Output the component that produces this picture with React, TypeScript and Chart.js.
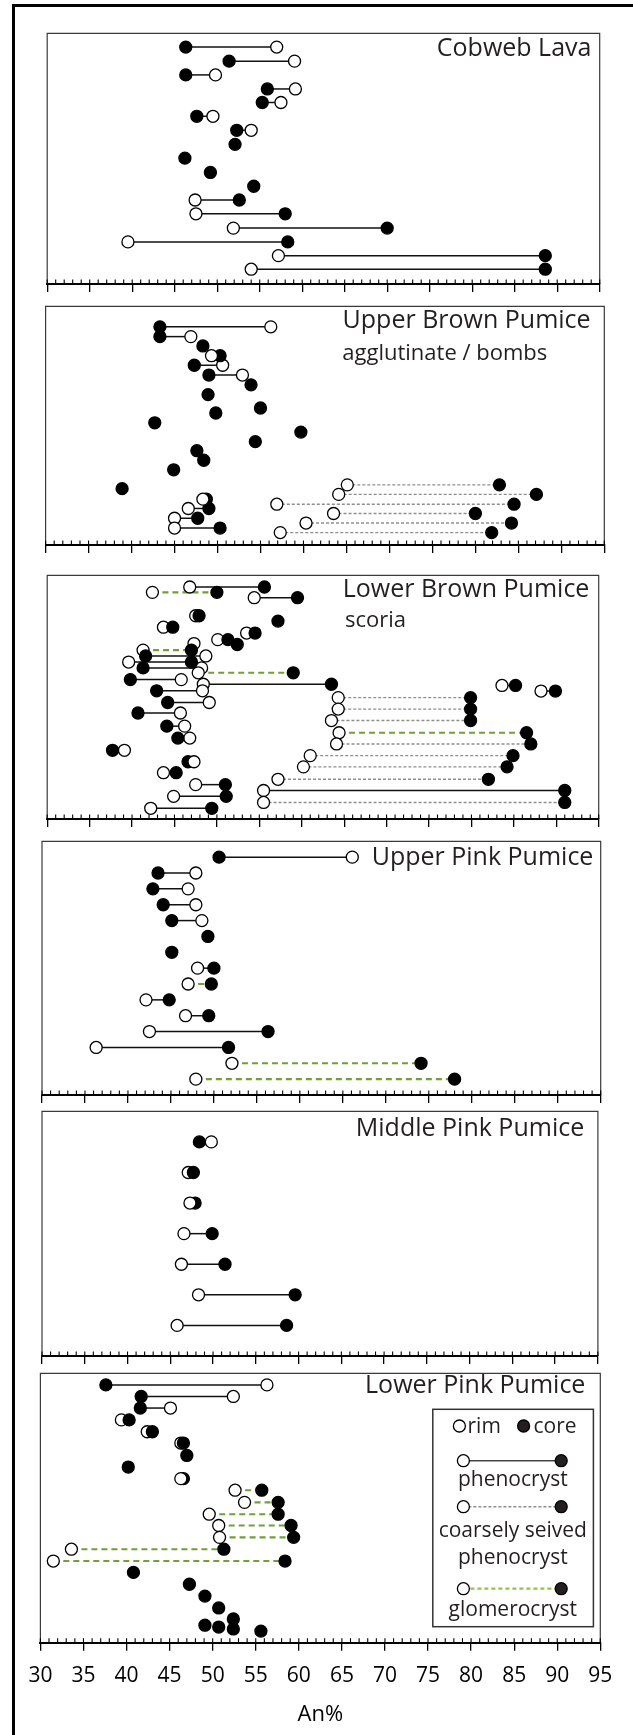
import React, { useEffect, useRef } from "react";
import { Chart, registerables } from "chart.js";

Chart.register(...registerables);

const FONT = "'Open Sans', 'Noto Sans', sans-serif";
const TEXT = "#231f20";

// ---- axis ----
const X_MIN = 30;
const X_MAX = 95;
const xTicks = [30, 35, 40, 45, 50, 55, 60, 65, 70, 75, 80, 85, 90, 95];
const minorTicks = [
  31, 32, 33, 34, 36, 37, 38, 39, 41, 42, 43, 44, 46, 47, 48, 49, 51, 52, 53, 54,
  56, 57, 58, 59, 61, 62, 63, 64, 66, 67, 68, 69, 71, 72, 73, 74, 76, 77, 78, 79,
  81, 82, 83, 84, 86, 87, 88, 89, 91, 92, 93, 94,
];
const xTitle = "An%";

const panelNames = [
  "Cobweb Lava",
  "Upper Brown Pumice",
  "Lower Brown Pumice",
  "Upper Pink Pumice",
  "Middle Pink Pumice",
  "Lower Pink Pumice",
];
const panelSubtitles = ["", "agglutinate / bombs", "scoria", "", "", ""];

// pos = position of the crystal down the panel (0 top .. 100 bottom)
// link: p = phenocryst, s = coarsely sieved phenocryst, g = glomerocryst, "" = none

// ---- Cobweb Lava ----
const cobwebPos = [5.5, 11.1, 16.6, 22.2, 27.6, 33.1, 38.7, 44.3, 49.8, 55.5, 61.0, 66.5, 72.0, 77.7, 83.2, 88.7, 94.1];
const cobwebRim = [57.0, 59.1, 49.8, 59.2, 57.5, 49.5, 54.0, null, null, null, null, 47.4, 47.5, 51.9, 39.5, 57.2, 54.0];
const cobwebCore = [46.3, 51.4, 46.3, 55.9, 55.3, 47.6, 52.3, 52.1, 46.2, 49.2, 54.3, 52.6, 58.0, 70.0, 58.3, 88.6, 88.6];
const cobwebLink = ["p", "p", "p", "p", "p", "p", "p", "", "", "", "", "p", "p", "p", "p", "p", "p"];
const cobwebRimTop: number[] = [];

// ---- Upper Brown Pumice ----
const upperBrownPos = [8.6, 12.7, 16.6, 20.7, 24.7, 28.8, 32.9, 37.0, 42.6, 44.7, 48.8, 52.7, 56.7, 60.5, 64.5, 68.5, 74.8, 76.4, 78.8, 80.8, 82.9, 84.7, 86.8, 88.8, 90.8, 92.9, 94.8];
const upperBrownRim = [56.2, 46.9, null, 49.3, 50.6, 52.9, null, null, null, null, null, null, null, null, null, null, 65.1, null, 64.1, 48.3, 56.9, 46.6, 63.5, 45.0, 60.3, 45.0, 57.3];
const upperBrownCore = [43.3, 43.3, 48.3, 50.3, 47.3, 49.0, 53.9, 48.9, 55.0, 49.8, 42.7, 59.7, 54.4, 47.6, 48.4, 44.9, 82.8, 38.9, 87.1, 48.7, 84.5, 49.0, 80.0, 47.7, 84.2, 50.3, 81.9];
const upperBrownLink = ["p", "p", "", "p", "p", "p", "", "", "", "", "", "", "", "", "", "", "s", "", "s", "p", "s", "p", "s", "p", "s", "p", "s"];
const upperBrownRimTop = [3, 19];

// ---- Lower Brown Pumice ----
const lowerBrownPos = [4.8, 7.0, 9.2, 16.6, 18.8, 21.3, 23.7, 26.4, 28.0, 28.4, 30.7, 33.1, 35.6, 38.0, 40.0, 42.8, 44.7, 45.2, 47.4, 47.5, 50.2, 52.2, 54.9, 56.5, 59.6, 61.9, 64.6, 66.8, 69.2, 71.8, 74.0, 76.5, 78.6, 81.0, 83.7, 85.9, 88.3, 90.7, 93.2, 95.6];
const lowerBrownRim = [46.8, 42.4, 54.4, 47.5, null, 43.7, 53.5, 50.1, 47.3, null, 41.3, 48.7, 39.6, 48.2, 47.8, 45.8, 48.4, 83.6, 48.3, 88.2, 64.3, 49.1, 64.3, 45.7, 63.5, 46.2, 64.4, 46.8, 64.1, 39.1, 61.0, 47.3, 60.2, 43.7, 57.2, 47.5, 55.5, 44.9, 55.5, 42.2];
const lowerBrownCore = [55.6, 50.0, 59.5, 47.9, 57.2, 44.8, 54.5, 51.3, null, 52.4, 47.0, 41.6, 47.0, 41.3, 59.0, 39.8, 63.5, 85.2, 42.9, 89.9, 79.9, 44.2, 79.9, 40.7, 79.9, 44.1, 86.5, 45.4, 87.0, 37.7, 84.9, 46.6, 84.2, 45.2, 82.0, 51.0, 91.0, 51.1, 91.0, 49.4];
const lowerBrownLink = ["p", "g", "p", "p", "", "p", "p", "p", "", "", "g", "p", "p", "p", "g", "p", "p", "p", "p", "p", "s", "p", "s", "p", "s", "p", "g", "p", "s", "p", "s", "p", "s", "p", "s", "p", "p", "p", "s", "p"];
const lowerBrownRimTop = [31];

// ---- Upper Pink Pumice ----
const upperPinkPos = [6.25, 12.5, 18.75, 25, 31.25, 37.5, 43.75, 50, 56.25, 62.5, 68.75, 75, 81.25, 87.5, 93.75];
const upperPinkRim = [66.1, 47.9, 47.0, 47.9, 48.6, null, null, 48.1, 47.0, 42.1, 46.7, 42.5, 36.3, 52.1, 47.9];
const upperPinkCore = [50.6, 43.5, 42.9, 44.1, 45.1, 49.3, 45.1, 50.0, 49.7, 44.8, 49.4, 56.3, 51.7, 74.1, 78.0];
const upperPinkLink = ["p", "p", "p", "p", "p", "", "", "p", "g", "p", "p", "p", "p", "g", "g"];
const upperPinkRimTop: number[] = [];

// ---- Middle Pink Pumice ----
const middlePinkPos = [12.5, 25, 37.5, 50, 62.5, 75, 87.5];
const middlePinkRim = [49.8, 47.1, 47.3, 46.6, 46.3, 48.3, 45.8];
const middlePinkCore = [48.4, 47.7, 47.9, 49.9, 51.4, 59.6, 58.6];
const middlePinkLink = ["p", "p", "p", "p", "p", "p", "p"];
const middlePinkRimTop = [0, 2];

// ---- Lower Pink Pumice ----
const lowerPinkPos = [4.3, 8.6, 12.9, 17.3, 21.7, 25.9, 30.5, 34.8, 39.1, 43.4, 47.9, 52.3, 56.5, 60.9, 65.3, 69.7, 73.9, 78.3, 82.7, 87.1, 91.2, 93.5, 94.2, 94.9, 95.7];
const lowerPinkRim = [56.3, 52.4, 45.1, 39.4, 42.4, 46.3, null, null, 46.3, 52.6, 53.7, 49.6, 50.7, 50.8, 33.6, 31.5, null, null, null, null, null, null, null, null, null];
const lowerPinkCore = [37.6, 41.7, 41.6, 40.3, 43.0, 46.6, 47.0, 40.2, 46.6, 55.7, 57.6, 57.6, 59.1, 59.4, 51.3, 58.4, 40.8, 47.3, 49.1, 50.7, 52.4, 49.1, 50.7, 52.4, 55.6];
const lowerPinkLink = ["p", "p", "p", "p", "p", "p", "", "", "p", "g", "g", "g", "g", "g", "g", "g", "", "", "", "", "", "", "", "", ""];
const lowerPinkRimTop = [8];

type PanelData = {
  pos: number[];
  rim: (number | null)[];
  core: (number | null)[];
  link: string[];
  rimTop: number[];
};

const panelData: PanelData[] = [
  { pos: cobwebPos, rim: cobwebRim, core: cobwebCore, link: cobwebLink, rimTop: cobwebRimTop },
  { pos: upperBrownPos, rim: upperBrownRim, core: upperBrownCore, link: upperBrownLink, rimTop: upperBrownRimTop },
  { pos: lowerBrownPos, rim: lowerBrownRim, core: lowerBrownCore, link: lowerBrownLink, rimTop: lowerBrownRimTop },
  { pos: upperPinkPos, rim: upperPinkRim, core: upperPinkCore, link: upperPinkLink, rimTop: upperPinkRimTop },
  { pos: middlePinkPos, rim: middlePinkRim, core: middlePinkCore, link: middlePinkLink, rimTop: middlePinkRimTop },
  { pos: lowerPinkPos, rim: lowerPinkRim, core: lowerPinkCore, link: lowerPinkLink, rimTop: lowerPinkRimTop },
];

// ---- layout (page pixels) ----
const W = 633;
const H = 1735;
const PAD_TOP = 3;
const AXIS_H = 12;
const LAYOUT = [
  { left: 47.2, right: 599.7, top: 29.3, axis: 284.0, titleRight: 591.4, titleBase: 56.7, subLeft: 0, subBase: 0 },
  { left: 45.6, right: 604.3, top: 302.3, axis: 545.7, titleRight: 590.6, titleBase: 328.3, subLeft: 342.3, subBase: 360.0 },
  { left: 47.2, right: 598.7, top: 570.7, axis: 818.3, titleRight: 589.4, titleBase: 596.7, subLeft: 345.0, subBase: 626.7 },
  { left: 42.0, right: 600.7, top: 837.3, axis: 1095.0, titleRight: 593.4, titleBase: 865.0, subLeft: 0, subBase: 0 },
  { left: 42.0, right: 597.9, top: 1107.3, axis: 1356.7, titleRight: 584.2, titleBase: 1136.0, subLeft: 0, subBase: 0 },
  { left: 40.4, right: 600.3, top: 1369.0, axis: 1642.7, titleRight: 585.4, titleBase: 1393.3, subLeft: 0, subBase: 0 },
];

const LINK_STYLE: Record<string, { color: string; width: number; dash: number[] }> = {
  p: { color: "#111111", width: 1.5, dash: [] },
  s: { color: "#8e8e8e", width: 1.4, dash: [3, 2] },
  g: { color: "#70a036", width: 2.1, dash: [6, 4] },
};
const LEGEND_GREEN = "#8dc63f";
const POINT_R = 6;
const POINT_BW = 1.3;

function drawCircle(ctx: CanvasRenderingContext2D, x: number, y: number, filled: boolean) {
  ctx.beginPath();
  ctx.arc(x, y, POINT_R, 0, Math.PI * 2);
  ctx.fillStyle = filled ? "#231f20" : "#ffffff";
  ctx.fill();
  ctx.lineWidth = POINT_BW;
  ctx.strokeStyle = "#000";
  ctx.stroke();
}

function drawLegend(ctx: CanvasRenderingContext2D, T: number) {
  const y = (v: number) => v - T;
  ctx.save();
  ctx.fillStyle = "#fff";
  ctx.fillRect(432.8, y(1409.3), 160.6, 217.4);
  ctx.strokeStyle = "#333";
  ctx.lineWidth = 1.5;
  ctx.strokeRect(432.8, y(1409.3), 160.6, 217.4);

  ctx.font = `21px ${FONT}`;
  ctx.fillStyle = TEXT;
  ctx.textBaseline = "alphabetic";
  drawCircle(ctx, 459.4, y(1426), false);
  ctx.fillStyle = TEXT;
  ctx.textAlign = "left";
  ctx.fillText("rim", 467.5, y(1433));
  drawCircle(ctx, 523.6, y(1426), true);
  ctx.fillStyle = TEXT;
  ctx.fillText("core", 533.5, y(1433));

  const rows = [
    { cy: 1460.7, color: "#444", width: 1.5, dash: [] as number[], labels: [["phenocryst", 1485.5]] },
    { cy: 1506.7, color: "#8e8e8e", width: 1.4, dash: [3, 2], labels: [["coarsely seived", 1536.5], ["phenocryst", 1563.5]] },
    { cy: 1588.7, color: LEGEND_GREEN, width: 2.2, dash: [4, 3], labels: [["glomerocryst", 1615.5]] },
  ];
  for (const r of rows) {
    ctx.beginPath();
    ctx.setLineDash(r.dash);
    ctx.strokeStyle = r.color;
    ctx.lineWidth = r.width;
    ctx.moveTo(463.4, y(r.cy));
    ctx.lineTo(561.2, y(r.cy));
    ctx.stroke();
    ctx.setLineDash([]);
    drawCircle(ctx, 463.4, y(r.cy), false);
    drawCircle(ctx, 561.2, y(r.cy), true);
    ctx.fillStyle = TEXT;
    ctx.textAlign = "center";
    for (const [t, b] of r.labels) ctx.fillText(t as string, 512.8, y(b as number));
  }
  ctx.restore();
}

const decorPlugin = {
  id: "panelDecor",
  beforeDatasetsDraw(chart: any, _args: any, opts: any) {
    const { ctx, chartArea: a, scales } = chart;
    const T = opts.canvasTop;
    ctx.save();
    // frame (left, top, right)
    ctx.strokeStyle = "#3a3a3a";
    ctx.lineWidth = 1.2;
    ctx.beginPath();
    ctx.moveTo(a.left, a.bottom);
    ctx.lineTo(a.left, a.top);
    ctx.lineTo(a.right, a.top);
    ctx.lineTo(a.right, a.bottom);
    ctx.stroke();
    // minor ticks pointing up into the plot
    ctx.strokeStyle = "#000";
    ctx.lineWidth = 1.1;
    for (const v of [...minorTicks, ...xTicks]) {
      const x = scales.x.getPixelForValue(v);
      ctx.beginPath();
      ctx.moveTo(x, a.bottom);
      ctx.lineTo(x, a.bottom - 4.5);
      ctx.stroke();
    }
    // titles
    ctx.fillStyle = TEXT;
    ctx.textBaseline = "alphabetic";
    ctx.font = `25px ${FONT}`;
    ctx.textAlign = "right";
    ctx.fillText(opts.title, opts.titleRight, opts.titleBase - T);
    if (opts.subtitle) {
      ctx.font = `22px ${FONT}`;
      ctx.textAlign = "left";
      ctx.fillText(opts.subtitle, opts.subLeft, opts.subBase - T);
    }
    ctx.restore();
  },
  afterDraw(chart: any, _args: any, opts: any) {
    if (opts.legend) drawLegend(chart.ctx, opts.canvasTop);
  },
};

function buildDatasets(d: PanelData) {
  const lines: any[] = [];
  const rims: any[] = [];
  const rimsTop: any[] = [];
  const cores: any[] = [];
  for (let i = 0; i < d.pos.length; i++) {
    const y = d.pos[i];
    const r = d.rim[i];
    const c = d.core[i];
    if (r != null) (d.rimTop.includes(i) ? rimsTop : rims).push({ x: r, y });
    if (c != null) cores.push({ x: c, y });
    const st = LINK_STYLE[d.link[i]];
    if (st && r != null && c != null) {
      lines.push({
        data: [{ x: r, y }, { x: c, y }],
        showLine: true,
        borderColor: st.color,
        borderWidth: st.width,
        borderDash: st.dash,
        pointRadius: 0,
        clip: false,
        order: 10,
      });
    }
  }
  const pt = (data: any[], fill: string, order: number) => ({
    data,
    showLine: false,
    pointRadius: POINT_R,
    pointBorderWidth: POINT_BW,
    pointBackgroundColor: fill,
    pointBorderColor: "#000",
    clip: false,
    order,
  });
  return [...lines, pt(rims, "#ffffff", 3), pt(cores, "#000000", 2), pt(rimsTop, "#ffffff", 1)];
}

function canvasGeom(i: number) {
  const L = LAYOUT[i];
  const last = i === LAYOUT.length - 1;
  const top = L.top - PAD_TOP;
  const axisH = last ? H - L.axis : AXIS_H;
  const height = L.axis - L.top + PAD_TOP + axisH;
  return { top, height, axisH, last };
}

export default function App() {
  const refs = useRef<(HTMLCanvasElement | null)[]>([]);

  useEffect(() => {
    Chart.defaults.font.family = FONT;
    const charts: Chart[] = [];
    LAYOUT.forEach((L, i) => {
      const cv = refs.current[i];
      if (!cv) return;
      const g = canvasGeom(i);
      const chart = new Chart(cv, {
        type: "scatter",
        data: { datasets: buildDatasets(panelData[i]) as any },
        plugins: [decorPlugin as any],
        options: {
          animation: false,
          responsive: false,
          devicePixelRatio: 1,
          events: [],
          layout: { padding: { left: L.left, right: W - L.right, top: PAD_TOP, bottom: 0 } },
          plugins: {
            legend: { display: false },
            tooltip: { enabled: false },
            panelDecor: {
              canvasTop: g.top,
              title: panelNames[i],
              subtitle: panelSubtitles[i],
              titleRight: L.titleRight,
              titleBase: L.titleBase,
              subLeft: L.subLeft,
              subBase: L.subBase,
              legend: g.last,
            },
          } as any,
          scales: {
            x: {
              type: "linear",
              position: "bottom",
              min: X_MIN,
              max: X_MAX,
              afterBuildTicks: (s: any) => {
                s.ticks = xTicks.map((v) => ({ value: v }));
              },
              afterFit: (s: any) => {
                s.height = g.axisH;
              },
              ticks: {
                display: g.last,
                autoSkip: false,
                maxRotation: 0,
                padding: 13,
                color: "#000",
                font: { family: FONT, size: 21 },
              },
              grid: {
                drawOnChartArea: false,
                drawTicks: true,
                tickLength: 8,
                color: "#000",
                lineWidth: 1.3,
              },
              border: { display: true, color: "#000", width: 2 },
              title: {
                display: g.last,
                text: xTitle,
                color: "#000",
                font: { family: FONT, size: 22 },
                padding: { top: 0, bottom: 7 },
              },
            },
            y: { type: "linear", min: 0, max: 100, reverse: true, display: false },
          },
        } as any,
      });
      charts.push(chart);
    });
    return () => charts.forEach((c) => c.destroy());
  }, []);

  return (
    <div
      style={{
        position: "absolute",
        left: 0,
        top: 0,
        width: W,
        height: H,
        overflow: "hidden",
        background: "#fff",
      }}
    >
      <div
        style={{
          position: "absolute",
          left: 12,
          top: 4,
          width: W + 40,
          height: H + 40,
          border: "3px solid #000",
          boxSizing: "border-box",
        }}
      />
      {LAYOUT.map((_, i) => {
        const g = canvasGeom(i);
        return (
          <canvas
            key={i}
            ref={(el) => {
              refs.current[i] = el;
            }}
            width={W}
            height={Math.round(g.height)}
            style={{
              position: "absolute",
              left: 0,
              top: g.top,
              width: W,
              height: Math.round(g.height),
              display: "block",
            }}
          />
        );
      })}
    </div>
  );
}
